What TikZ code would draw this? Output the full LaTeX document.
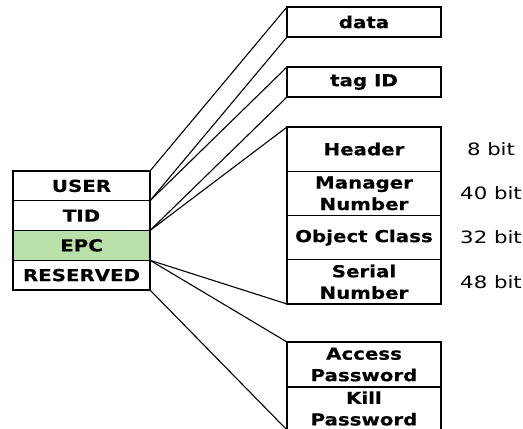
\documentclass[tikz,border=0pt]{standalone}
\usepackage{fontspec}
\newfontfamily\vbold[FakeStretch=1.2,FakeBold=0.3]{DejaVu Sans Bold}
\newfontfamily\vreg[FakeStretch=1.25]{DejaVu Sans}
\definecolor{epcgreen}{RGB}{184,224,168}
\tikzset{
  fld/.style={draw=black, line width=1.4pt, inner sep=0pt, outer sep=0pt, anchor=north west,
    align=center, font=\fontsize{16.5}{21.5}\vbold},
  lfld/.style={fld, minimum width=137pt, minimum height=29.75pt},
  rfld/.style={fld, minimum width=154pt},
  bits/.style={font=\fontsize{17}{18}\vreg, inner sep=0pt},
  conn/.style={line width=1.1pt}
}
\begin{document}
\begin{tikzpicture}[x=1pt,y=-1pt]
\useasboundingbox (0,0) rectangle (523,429);
% left stack
\node[lfld] (user) at (13,171) {USER};
\node[lfld] (tid) at (13,200.75) {TID};
\node[lfld, fill=epcgreen] (epc) at (13,230.5) {EPC};
\node[lfld] (reserved) at (13,260.25) {RESERVED};
% right boxes
\node[rfld, minimum height=30pt] (data) at (287,7) {data};
\node[rfld, minimum height=30pt] (tagid) at (287,67) {tag ID};
\node[rfld, minimum height=44.25pt] (header) at (287,127) {Header};
\node[rfld, minimum height=44.25pt] (manager) at (287,171.25) {Manager\\Number};
\node[rfld, minimum height=44.25pt] (object) at (287,215.5) {Object Class};
\node[rfld, minimum height=44.25pt] (serial) at (287,259.75) {Serial\\Number};
\node[rfld, minimum height=45pt] (access) at (287,342) {Access\\Password};
\node[rfld, minimum height=43pt] (kill) at (287,387) {Kill\\Password};
% bit sizes
\node[bits] (b1) at (491,149) {8 bit};
\node[bits] (b2) at (491,193.5) {40 bit};
\node[bits] (b3) at (491,237.5) {32 bit};
\node[bits] (b4) at (491,282) {48 bit};
% connectors
\draw[conn] (user.north east) -- (data.north west);
\draw[conn] (user.south east) -- (data.south west);
\draw[conn] (tid.north east) -- (tagid.north west);
\draw[conn] (tid.south east) -- (tagid.south west);
\draw[conn] (epc.north east) -- (header.north west);
\draw[conn] (epc.south east) -- (serial.south west);
\draw[conn] (reserved.north east) -- (access.north west);
\draw[conn] (reserved.south east) -- (kill.south west);
\end{tikzpicture}
\end{document}
